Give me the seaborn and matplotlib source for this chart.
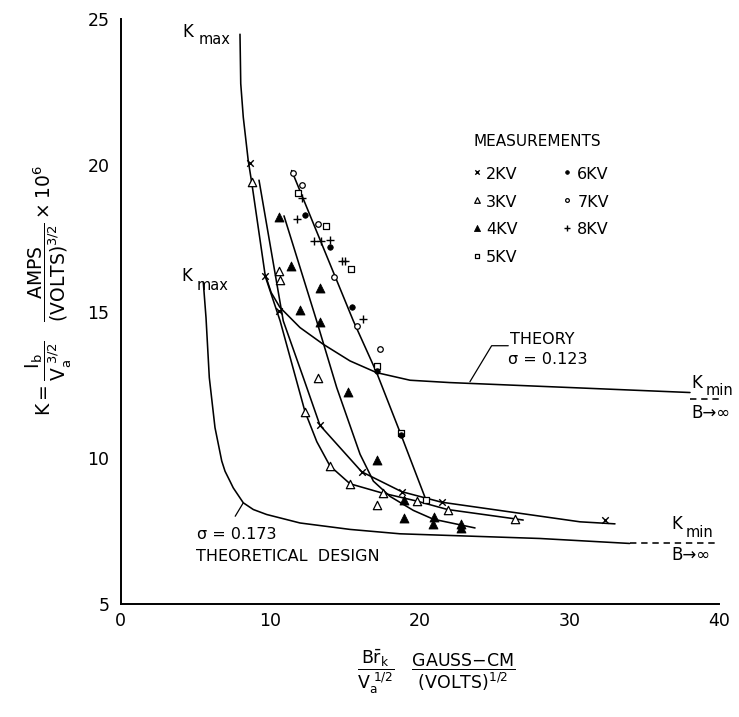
import numpy as np
import pandas as pd
import matplotlib
matplotlib.use("Agg")
import matplotlib.pyplot as plt
from matplotlib.ticker import MultipleLocator
import seaborn as sns

# ---------------- data ----------------
# theory curve sigma = 0.123 (upper K_max)
theory_hi_x = [7.97, 8.02, 8.19, 8.52, 8.75, 9.64, 10.05, 10.64, 11.98, 13.53, 15.32, 17.10, 19.33, 21.99, 30.03, 38.03]
theory_hi_y = [24.48, 22.79, 21.64, 20.16, 19.42, 16.28, 15.65, 15.14, 14.45, 13.88, 13.31, 12.91, 12.65, 12.57, 12.40, 12.23]
theory_hi_asym_x = [38.03, 40.0]
theory_hi_asym_y = [12.02, 12.02]

# theoretical design sigma = 0.173 (lower K_max)
theory_lo_x = [5.52, 5.70, 5.92, 6.30, 6.75, 6.97, 7.30, 7.52, 8.19, 8.86, 9.75, 11.98, 15.32, 18.66, 28.0, 34.0]
theory_lo_y = [15.99, 14.79, 12.74, 11.03, 9.89, 9.54, 9.20, 8.97, 8.46, 8.23, 8.06, 7.77, 7.55, 7.40, 7.24, 7.07]
theory_lo_asym_x = [34.0, 40.0]
theory_lo_asym_y = [7.07, 7.07]

# fitted measurement curves
fit_2kv_x = [9.24, 10.86, 12.20, 13.31, 16.10, 18.77, 21.44, 30.68, 33.02]
fit_2kv_y = [19.49, 14.68, 12.74, 11.11, 9.52, 8.84, 8.48, 7.81, 7.74]
fit_3kv_x = [9.66, 10.65, 12.31, 13.10, 13.98, 15.32, 17.43, 19.77, 21.84, 26.36, 26.89]
fit_3kv_y = [16.20, 14.68, 11.58, 10.55, 9.72, 9.11, 8.80, 8.52, 8.23, 7.91, 7.87]
fit_4kv_x = [10.91, 13.09, 14.43, 15.99, 16.88, 17.99, 19.55, 20.88, 23.67]
fit_4kv_y = [18.27, 14.68, 12.40, 10.12, 9.20, 8.68, 8.20, 7.90, 7.60]
fit_hi_x = [11.42, 15.54, 17.10, 18.70, 20.40]
fit_hi_y = [19.82, 14.68, 12.91, 10.82, 8.55]

# measurement points
kv2_x = [8.64, 9.66, 10.55, 13.31, 16.10, 18.77, 21.44, 32.34]
kv2_y = [20.07, 16.20, 15.02, 11.11, 9.52, 8.84, 8.48, 7.86]
kv3_x = [8.75, 10.57, 10.62, 13.20, 12.31, 13.98, 15.32, 17.10, 17.50, 19.77, 21.84, 26.36]
kv3_y = [19.42, 16.37, 16.09, 12.72, 11.58, 9.72, 9.11, 8.37, 8.78, 8.52, 8.23, 7.91]
kv4_x = [10.60, 11.36, 13.31, 11.98, 13.31, 15.20, 17.10, 18.92, 18.92, 20.95, 20.88, 22.73, 22.73]
kv4_y = [18.22, 16.57, 15.82, 15.05, 14.65, 12.25, 9.91, 8.55, 7.95, 7.97, 7.74, 7.75, 7.60]
kv5_x = [11.86, 13.69, 15.40, 17.10, 18.70, 20.39]
kv5_y = [19.04, 17.92, 16.44, 13.14, 10.86, 8.54]
kv6_x = [12.33, 14.00, 15.43, 17.10, 18.70]
kv6_y = [18.31, 17.19, 15.14, 12.97, 10.77]
kv7_x = [11.53, 12.13, 13.16, 14.27, 15.81, 17.32]
kv7_y = [19.73, 19.34, 17.99, 16.19, 14.49, 13.72]
kv8_x = [12.09, 11.80, 12.89, 13.40, 14.00, 14.76, 14.98, 16.19]
kv8_y = [18.87, 18.16, 17.40, 17.40, 17.46, 16.74, 16.74, 14.74]

legend_labels = ["2KV", "3KV", "4KV", "5KV", "6KV", "7KV", "8KV"]
x_ticks = [0, 10, 20, 30, 40]
y_ticks = [5, 10, 15, 20, 25]

# ---------------- figure ----------------
sns.set_style("white")
plt.rcParams["font.family"] = ["DejaVu Sans"]
plt.rcParams["mathtext.default"] = "regular"
plt.rcParams["text.color"] = "black"

fig = plt.figure(figsize=(7.39, 7.17), dpi=100)
ax = fig.add_axes([0.1633, 0.1576, 0.8103, 0.8159])

K = "black"
LW = 1.15

def curve(xs, ys, ls="-"):
    sns.lineplot(x=xs, y=ys, sort=False, estimator=None, color=K, lw=LW,
                 linestyle=ls, ax=ax, legend=False)

curve(theory_hi_x, theory_hi_y)
curve(theory_hi_asym_x, theory_hi_asym_y, ls=(0, (4, 3)))
curve(theory_lo_x, theory_lo_y)
curve(theory_lo_asym_x, theory_lo_asym_y, ls=(0, (4, 3)))
curve(fit_2kv_x, fit_2kv_y)
curve(fit_3kv_x, fit_3kv_y)
curve(fit_4kv_x, fit_4kv_y)
curve(fit_hi_x, fit_hi_y)

styles = {
    "2KV": dict(marker="x", s=22, color=K, linewidth=1.0),
    "3KV": dict(marker="^", s=36, color="white", edgecolor=K, linewidth=0.9),
    "4KV": dict(marker="^", s=42, color=K, edgecolor=K, linewidth=0.6),
    "5KV": dict(marker="s", s=18, color="white", edgecolor=K, linewidth=0.9),
    "6KV": dict(marker="o", s=16, color=K, edgecolor=K, linewidth=0.5),
    "7KV": dict(marker="o", s=16, color="white", edgecolor=K, linewidth=0.9),
    "8KV": dict(marker="+", s=30, color=K, linewidth=1.0),
}
series = {"2KV": (kv2_x, kv2_y), "3KV": (kv3_x, kv3_y), "4KV": (kv4_x, kv4_y),
          "5KV": (kv5_x, kv5_y), "6KV": (kv6_x, kv6_y), "7KV": (kv7_x, kv7_y),
          "8KV": (kv8_x, kv8_y)}
for name, (xs, ys) in series.items():
    sns.scatterplot(x=xs, y=ys, ax=ax, zorder=4, legend=False, **styles[name])

# hand-drawn style legend
ax.text(23.54, 20.67, "MEASUREMENTS", fontsize=11, ha="left", va="baseline", color=K)
leg_pos = {"2KV": (0, 0), "3KV": (0, 1), "4KV": (0, 2), "5KV": (0, 3),
           "6KV": (1, 0), "7KV": (1, 1), "8KV": (1, 2)}
col_mx = [23.82, 29.79]
col_tx = [24.40, 30.50]
for name in legend_labels:
    c, r = leg_pos[name]
    yb = 19.54 - 0.952 * r
    st = dict(styles[name])
    st["s"] = st["s"] * 0.45
    sns.scatterplot(x=[col_mx[c]], y=[yb + 0.22], ax=ax, zorder=4, legend=False, **st)
    ax.text(col_tx[c], yb, name, fontsize=11.5, ha="left", va="baseline", color=K)

# annotations
FS = 11.5
ax.text(4.15, 24.40, "K", fontsize=12, ha="left", va="baseline", color=K)
ax.text(5.20, 24.15, "max", fontsize=10.5, ha="left", va="baseline", color=K)
ax.text(4.05, 16.05, "K", fontsize=12, ha="left", va="baseline", color=K)
ax.text(5.05, 15.75, "max", fontsize=10.5, ha="left", va="baseline", color=K)

ax.text(26.0, 13.88, "THEORY", fontsize=FS, ha="left", va="baseline", color=K)
ax.text(25.9, 13.20, "σ = 0.123", fontsize=FS, ha="left", va="baseline", color=K)
ax.plot([23.33, 24.78, 25.89], [12.60, 13.83, 13.83], color=K, lw=0.9)

ax.text(5.1, 7.21, "σ = 0.173", fontsize=FS, ha="left", va="baseline", color=K)
ax.text(5.0, 6.46, "THEORETICAL  DESIGN", fontsize=FS, ha="left", va="baseline", color=K)
ax.plot([7.65, 8.19], [8.00, 8.46], color=K, lw=0.9)

ax.text(38.1, 12.40, "K", fontsize=12, ha="left", va="baseline", color=K)
ax.text(39.05, 12.15, "min", fontsize=10.5, ha="left", va="baseline", color=K)
ax.text(38.1, 11.35, "B→∞", fontsize=12, ha="left", va="baseline", color=K)
ax.text(36.8, 7.55, "K", fontsize=12, ha="left", va="baseline", color=K)
ax.text(37.75, 7.30, "min", fontsize=10.5, ha="left", va="baseline", color=K)
ax.text(36.8, 6.50, "B→∞", fontsize=12, ha="left", va="baseline", color=K)

# axes
ax.set_xlim(0, 40)
ax.set_ylim(5, 25)
ax.set_xticks(x_ticks)
ax.set_yticks(y_ticks)
ax.set_xticklabels([str(t) for t in x_ticks])
ax.set_yticklabels([str(t) for t in y_ticks])
ax.yaxis.set_minor_locator(MultipleLocator(1))
ax.tick_params(axis="both", which="both", direction="in", length=10, width=1.0,
               labelsize=12.5, colors=K, labelcolor=K)
ax.tick_params(axis="y", which="both", pad=8)
ax.tick_params(axis="x", which="both", pad=6)
for s in ["top", "right"]:
    ax.spines[s].set_visible(False)
for s in ["left", "bottom"]:
    ax.spines[s].set_color(K)
    ax.spines[s].set_linewidth(1.4)
ax.set_xlabel("")
ax.set_ylabel("")

fig.text(0.066, 0.595,
         r"$K = \dfrac{I_b}{V_a^{\ 3/2}}\quad\dfrac{AMPS}{(VOLTS)^{3/2}}\times 10^6$",
         rotation=90, ha="center", va="center", fontsize=13.5, color=K)
fig.text(0.591, 0.063,
         r"$\dfrac{B\bar{r}_k}{V_a^{\ 1/2}}\quad\dfrac{GAUSS{-}CM}{(VOLTS)^{1/2}}$",
         ha="center", va="center", fontsize=12.5, color=K)

fig.savefig("out.png", dpi=100)
